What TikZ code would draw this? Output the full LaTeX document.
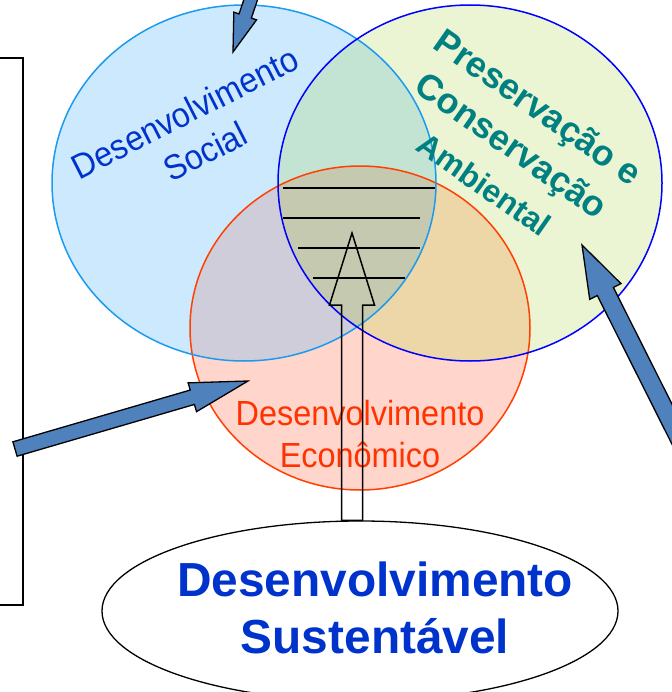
\documentclass[tikz,border=0pt]{standalone}
\usepackage{fontspec}
\setmainfont{Liberation Sans}
\newfontfamily\narrowsans[FakeStretch=0.93]{Liberation Sans}
\usetikzlibrary{calc,shapes.geometric}

% Colours of the three circles and their overlaps
\definecolor{socialfill}{HTML}{CCE9FD}
\definecolor{socialline}{HTML}{1A9BEF}
\definecolor{ambfill}{HTML}{EBF5D4}
\definecolor{ambline}{HTML}{0000FF}
\definecolor{ecofill}{HTML}{FFD5CC}
\definecolor{ecoline}{HTML}{FF4000}
\definecolor{socamb}{HTML}{C3E4D3}
\definecolor{soceco}{HTML}{CFCDDA}
\definecolor{ambeco}{HTML}{EDD6A8}
\definecolor{allthree}{HTML}{C4C9B0}
\definecolor{arrowblue}{HTML}{4F81BD}
\definecolor{textblue}{HTML}{0033CC}
\definecolor{textteal}{HTML}{008080}
\definecolor{textred}{HTML}{FF3300}

\tikzset{
  bluearrow/.style={fill=arrowblue, draw=black, line width=1.3bp, line join=miter},
  hollowarrow/.style={draw=black, line width=1.5bp, line join=miter},
  hatchline/.style={black, line width=1.5bp},
  circleline/.style={line width=1.5bp},
}

% block arrow: style, tail, tip, shaft half width, head half width, head length
\newcommand{\blockarrow}[6]{%
  \coordinate (hb) at ($(#3)!#6!(#2)$);
  \draw[#1] ($(#2)!#4!90:(#3)$) -- ($(hb)!#4!-90:(#2)$) -- ($(hb)!#5!-90:(#2)$) -- (#3)
    -- ($(hb)!#5!90:(#2)$) -- ($(hb)!#4!90:(#2)$) -- ($(#2)!#4!-90:(#3)$) -- cycle;
}

\begin{document}
\begin{tikzpicture}[x=1bp, y=-1bp]

    \useasboundingbox (0,0) rectangle (672,692);

    % Define the centres of the circles
    \coordinate (soc) at (244,183);     % Social
    \coordinate (amb) at (470,183);     % Ambiental
    \coordinate (eco) at (360,328);     % Economico

    % Fill the circles
    \fill[socialfill] (soc) ellipse (192 and 178);
    \fill[ambfill] (amb) ellipse (192 and 178);
    \fill[ecofill] (eco) ellipse (170 and 162);

    % Overlap of ambiental and economico
    \begin{scope}
        \clip (amb) ellipse (192 and 178);
        \fill[ambeco] (eco) ellipse (170 and 162);
    \end{scope}

    % Overlaps with social
    \begin{scope}
        \clip (soc) ellipse (192 and 178);
        \fill[socamb] (amb) ellipse (192 and 178);
        \fill[soceco] (eco) ellipse (170 and 162);
        \clip (amb) ellipse (192 and 178);
        \fill[allthree] (eco) ellipse (170 and 162);
    \end{scope}

    % Circle outlines
    \draw[circleline, ecoline] (eco) ellipse (170 and 162);
    \draw[circleline, socialline] (soc) ellipse (192 and 178);
    \draw[circleline, ambline] (amb) ellipse (192 and 178);

    % Lines in the common part
    \foreach \y/\xa/\xb in {188/283/435, 218/283/420, 248/298/420, 278/313/405}
        \draw[hatchline] (\xa,\y) -- (\xb,\y);

    % Box at the left border
    \draw[line width=1.3bp] (-5,58) rectangle (23,605);

    % Labels of the circles
    \node[text=textblue, rotate=27, align=center,
          font=\narrowsans\fontsize{35}{44}\selectfont] (social) at (195,132)
          {Desenvolvimento\\Social};
    \node[text=textred, align=center,
          font=\narrowsans\fontsize{35}{43}\selectfont] (econ) at (360,434)
          {Desenvolvimento\\Econômico};
    \node[text=textteal, rotate=-35, align=center,
          font=\bfseries\fontsize{36}{47}\selectfont] (ambiental) at (512,145)
          {Preservação e\\Conservação\\{\fontsize{32}{47}\selectfont Ambiental}};

    % Ellipse at the bottom
    \node[ellipse, draw, line width=1.3bp, minimum width=516bp,
          minimum height=180bp, inner sep=0pt] (sust) at (360,611) {};
    \node[text=textblue, align=center,
          font=\bfseries\fontsize{48}{58}\selectfont] (susttext) at (375,608)
          {Desenvolvimento\\Sustentável};

    % Hollow arrow up to the common part
    \coordinate (lens) at (352,233);
    \coordinate (foot) at (lens |- sust.north);
    \blockarrow{hollowarrow}{foot}{lens}{10.5bp}{22.5bp}{72bp}

    % Blue arrows
    \coordinate (topTail) at (254,-10);
    \coordinate (topTip) at (233,52);
    \blockarrow{bluearrow}{topTail}{topTip}{6.5bp}{12bp}{38bp}

    \coordinate (leftTail) at (15,449);
    \coordinate (leftTip) at (248,381);
    \blockarrow{bluearrow}{leftTail}{leftTip}{7.5bp}{15bp}{58bp}

    \coordinate (rightTail) at (694,468);
    \coordinate (rightTip) at (582,245);
    \blockarrow{bluearrow}{rightTail}{rightTip}{9bp}{17.5bp}{52bp}

\end{tikzpicture}
\end{document}
